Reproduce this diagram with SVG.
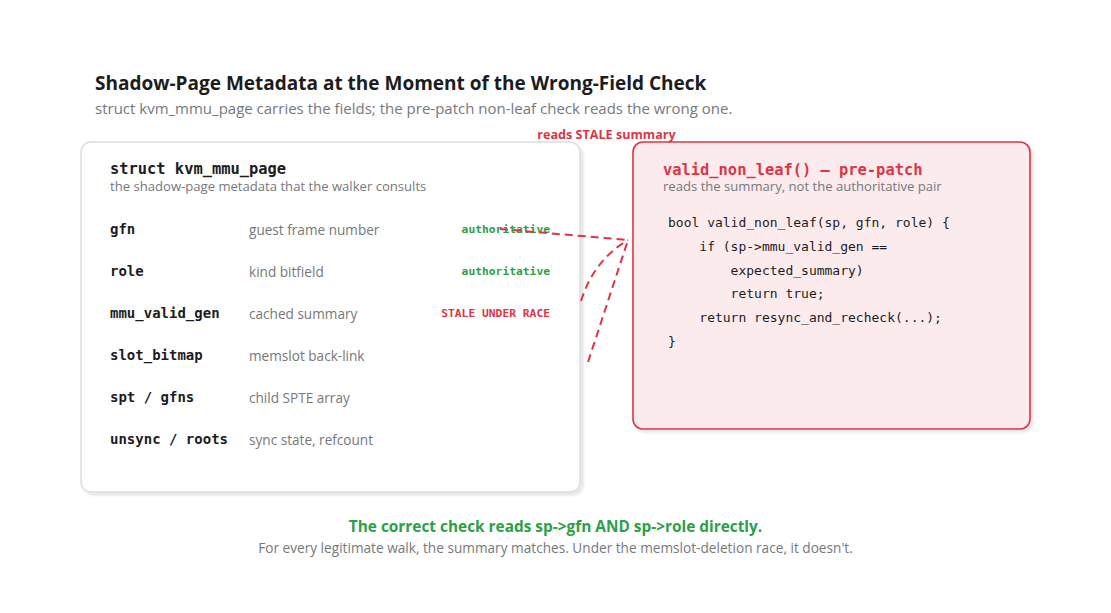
<svg xmlns="http://www.w3.org/2000/svg" width="1111" height="613" viewBox="0 0 1111 613">
<defs>
<style>
.sans{font-family:"Open Sans","Noto Sans","Liberation Sans",sans-serif}
.mono{font-family:"DejaVu Sans Mono","Liberation Mono",monospace}
.title{font-size:19px;font-weight:700;fill:#1c1c1e}
.sub{font-size:15px;fill:#77777c}
.ctitle{font-size:15.4px;font-weight:700}
.csub{font-size:13.1px;fill:#77777c}
.fname{font-size:14px;font-weight:700;fill:#1c1c1e}
.fdesc{font-size:13.6px;fill:#77777c}
.tag{font-size:11.3px;font-weight:700;text-anchor:end}
.green{fill:#2aa146}
.red{fill:#e03446}
.code{font-size:13px;fill:#1c1c1e}
.conn{fill:none;stroke:#e03446;stroke-width:2;stroke-dasharray:8 5}
</style>
<filter id="sh" x="-5%" y="-5%" width="110%" height="110%">
<feDropShadow dx="3" dy="3" stdDeviation="1.2" flood-color="#000" flood-opacity="0.09"/>
</filter>
</defs>
<rect width="1111" height="613" fill="#ffffff"/>
<g id="header">
<text class="sans title" x="95" y="90">Shadow-Page Metadata at the Moment of the Wrong-Field Check</text>
<text class="sans sub" x="95" y="114">struct kvm_mmu_page carries the fields; the pre-patch non-leaf check reads the wrong one.</text>
</g>
<g id="struct-card">
<rect x="81" y="142" width="499" height="350" rx="10" fill="#ffffff" stroke="#dcdde0" stroke-width="1.5" filter="url(#sh)"/>
<text class="mono ctitle" x="110" y="174" fill="#1c1c1e">struct kvm_mmu_page</text>
<text class="sans csub" x="110" y="191">the shadow-page metadata that the walker consults</text>
<text class="mono fname" x="110" y="234">gfn</text>
<text class="sans fdesc" x="249" y="235">guest frame number</text>
<text class="mono tag green" x="550" y="233">authoritative</text>
<text class="mono fname" x="110" y="276">role</text>
<text class="sans fdesc" x="249" y="277">kind bitfield</text>
<text class="mono tag green" x="550" y="275">authoritative</text>
<text class="mono fname" x="110" y="318">mmu_valid_gen</text>
<text class="sans fdesc" x="249" y="319">cached summary</text>
<text class="mono tag red" x="550" y="317">STALE UNDER RACE</text>
<text class="mono fname" x="110" y="360">slot_bitmap</text>
<text class="sans fdesc" x="249" y="361">memslot back-link</text>
<text class="mono fname" x="110" y="402">spt / gfns</text>
<text class="sans fdesc" x="249" y="403">child SPTE array</text>
<text class="mono fname" x="110" y="444">unsync / roots</text>
<text class="sans fdesc" x="249" y="445">sync state, refcount</text>
</g>
<g id="check-card">
<rect x="633" y="142" width="397" height="287" rx="10" fill="#fcebed" stroke="#e03446" stroke-width="1.6" filter="url(#sh)"/>
<text class="mono ctitle red" x="663" y="175">valid_non_leaf() — pre-patch</text>
<text class="sans csub" x="663" y="191">reads the summary, not the authoritative pair</text>
<text class="mono code" x="668" y="227">bool valid_non_leaf(sp, gfn, role) {</text>
<text class="mono code" x="668" y="251" xml:space="preserve">    if (sp-&gt;mmu_valid_gen ==</text>
<text class="mono code red" x="668" y="275" xml:space="preserve">        expected_summary)</text>
<text class="mono code red" x="668" y="298" xml:space="preserve">        return true;</text>
<text class="mono code" x="668" y="322" xml:space="preserve">    return resync_and_recheck(...);</text>
<text class="mono code" x="668" y="346">}</text>
</g>
<g id="connectors">
<path class="conn" d="M500,229 L628,240"/>
<path class="conn" d="M581,301 Q594,260 628,240"/>
<path class="conn" d="M588,362 L628,240"/>
<text class="sans red" x="606.5" y="139" font-size="12.6px" font-weight="700" text-anchor="middle">reads STALE summary</text>
</g>
<g id="footer">
<text class="sans green" x="555.5" y="532" font-size="15.4px" font-weight="700" text-anchor="middle">The correct check reads sp-&gt;gfn AND sp-&gt;role directly.</text>
<text class="sans" x="555.5" y="553" font-size="13.65px" fill="#77777c" text-anchor="middle">For every legitimate walk, the summary matches. Under the memslot-deletion race, it doesn't.</text>
</g>
</svg>
